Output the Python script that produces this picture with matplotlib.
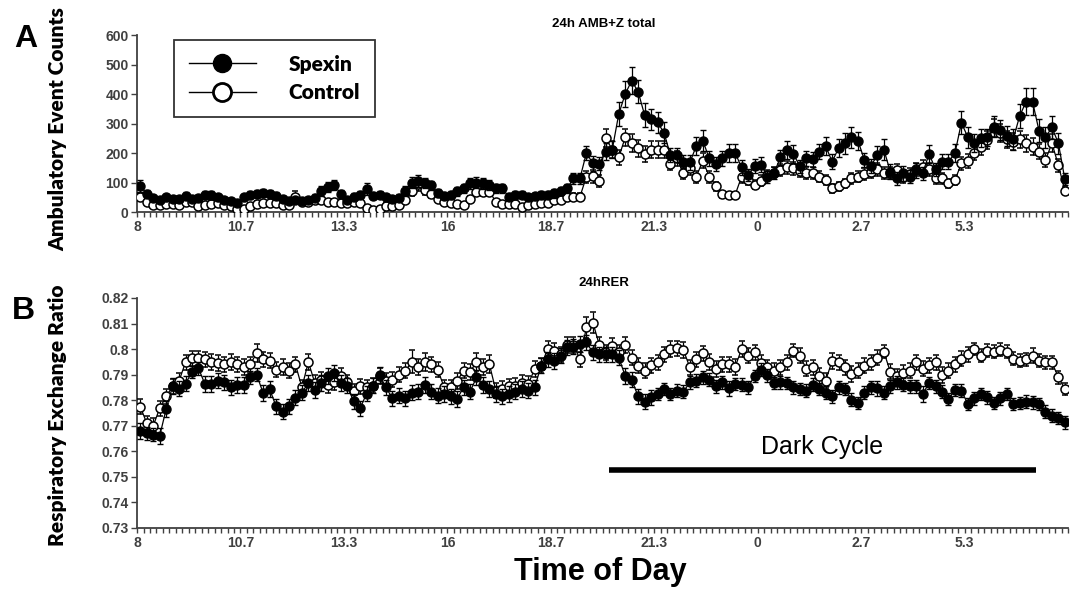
import matplotlib
matplotlib.use('Agg')
import matplotlib.pyplot as plt
from matplotlib.lines import Line2D
import numpy as np

plt.rcParams['font.family'] = ['Liberation Sans', 'DejaVu Sans']

# 10-minute bins over 24 h, starting at 8:00
tick_labels = ['8', '10.7', '13.3', '16', '18.7', '21.3', '0', '2.7', '5.3']
bins_per_label = 16

spexin_amb = [88, 62, 48, 42, 50, 45, 45, 55, 45, 48, 58, 58, 50, 42, 38, 32, 50, 58, 62, 65,
              62, 55, 45, 38, 40, 38, 40, 48, 72, 85, 92, 62, 40, 52, 58, 78, 55, 58, 50, 45,
              48, 72, 100, 105, 98, 90, 65, 55, 59, 70,
              80, 97, 100, 97, 92, 80, 80, 52, 58, 58, 50, 54, 58, 58, 63, 72, 80, 114, 114, 200,
              165, 163, 205, 212, 332, 400, 445, 408, 329, 314, 304, 269, 193, 193, 171, 168, 224, 242, 182, 163,
              182, 201, 201, 151, 125, 156, 161,
              120, 131, 185, 210, 197, 156, 182, 179, 205, 224, 171, 216, 233, 253, 242, 176, 156, 193, 212, 137,
              114, 131, 120, 142, 131, 197, 145, 171, 171, 199, 303, 253, 233, 250, 253, 289, 278, 258, 246, 325,
              374, 374, 276, 253, 287, 233, 111]
control_amb = [52, 35, 25, 25, 28, 28, 25, 35, 35, 22, 25, 28, 30, 25, 20, 10, 12, 22, 28, 30,
               30, 30, 25, 25, 50, 35, 35, 40, 40, 35, 35, 30, 32, 35, 32, 15, 8, 10, 22, 22,
               25, 40, 72, 95, 75, 60, 45, 35, 32, 28,
               24, 43, 69, 69, 69, 35, 27, 27, 27, 18, 24, 27, 29, 32, 41, 41, 52, 52, 52, 120,
               122, 106, 250, 212, 185, 253, 235, 216, 197, 212, 212, 212, 163, 182, 131, 148, 120, 174, 120, 88,
               61, 58, 58, 120, 108, 92, 106,
               125, 131, 142, 151, 148, 140, 131, 131, 120, 108, 80, 88, 97, 114, 120, 129, 137, 145, 131, 133,
               142, 118, 129, 145, 154, 145, 114, 114, 97, 108, 165, 174, 201, 222, 244, 284, 269, 246, 239, 246,
               233, 222, 205, 176, 233, 159, 72]
spexin_amb_err = [20, 12, 10, 10, 12, 10, 10, 12, 10, 10, 14, 14, 12, 10, 10, 8, 12, 14, 14, 14,
                  12, 12, 10, 10, 10, 10, 10, 12, 16, 18, 18, 14, 10, 12, 12, 20, 12, 12, 12, 10,
                  12, 16, 20, 20, 18, 16, 14, 12, 14, 14,
                  16, 18, 20, 20, 18, 16, 16, 12, 12, 12, 12, 12, 12, 12, 14, 14, 16, 20, 20, 25,
                  25, 22, 30, 30, 40, 45, 45, 40, 40, 35, 35, 35, 25, 25, 22, 25, 30, 35, 25, 25,
                  25, 30, 30, 25, 20, 25, 25,
                  20, 20, 25, 30, 30, 22, 25, 25, 25, 30, 25, 30, 35, 35, 30, 25, 25, 30, 35, 25,
                  22, 25, 22, 25, 22, 30, 22, 25, 25, 30, 40, 35, 30, 30, 30, 35, 35, 35, 35, 40,
                  45, 45, 40, 35, 40, 35, 20]
control_amb_err = [12, 8, 6, 6, 8, 8, 6, 8, 8, 6, 8, 8, 8, 6, 6, 6, 6, 8, 8, 8,
                   8, 8, 8, 6, 20, 10, 10, 10, 10, 10, 10, 8, 8, 10, 8, 6, 6, 6, 8, 8,
                   8, 10, 16, 22, 16, 14, 12, 10, 8, 10,
                   8, 10, 14, 14, 14, 10, 8, 8, 8, 6, 8, 8, 8, 8, 10, 10, 12, 12, 12, 20,
                   22, 20, 30, 28, 25, 30, 30, 28, 28, 28, 28, 28, 22, 25, 20, 22, 20, 25, 20, 15,
                   12, 10, 10, 20, 18, 15, 18,
                   18, 20, 20, 22, 22, 20, 20, 20, 18, 18, 15, 15, 16, 18, 18, 20, 20, 22, 20, 20,
                   22, 18, 20, 22, 22, 22, 18, 18, 16, 18, 22, 24, 25, 28, 30, 30, 30, 30, 28, 30,
                   28, 28, 26, 25, 30, 22, 12]

spexin_rer = [.768, .767, .7665, .766, .7765, .7855, .7845, .7865, .791, .7925, .7863, .7863, .7876, .787, .785, .786, .786, .789, .790, .7828,
              .7844, .7776, .7755, .7776, .781, .783, .7867, .784, .7867, .7895, .7906, .7867, .7857, .7795, .7768, .7826, .7857, .7898, .785, .7807,
              .7818, .7807, .783, .7833, .786, .7833, .7818, .7824, .7815, .7805,
              .785, .7833, .7889, .786, .7844, .7824, .7815, .7824, .7833, .7844, .7837, .785, .7935, .796, .7954, .7974, .8007, .801, .802, .8026,
              .7987, .798, .798, .798, .7967, .7895, .788, .7815, .7794, .7811, .7824, .7844, .7824, .7837, .7833, .787, .7876, .7889, .788, .7854,
              .787, .7846, .7863, .786, .785, .7895, .792,
              .7898, .7867, .787, .7867, .785, .7844, .7837, .786, .7844, .783, .7815, .785, .7844, .7802, .7789, .783, .785, .7846, .783, .7854,
              .787, .786, .7854, .7854, .7824, .7867, .7854, .7833, .7805, .784, .7837, .7785, .7807, .7824, .7811, .7789, .7807, .7824, .7785, .7789,
              .7794, .7792, .7785, .7755, .774, .773, .7714]
control_rer = [.7775, .771, .770, .7768, .7815, .7854, .7876, .7948, .7964, .7964, .796, .795, .7945, .794, .795, .794, .793, .794, .7984, .796,
               .7955, .792, .793, .7915, .794, .785, .795, .7867, .788, .786, .787, .7895, .787, .7835, .7854, .785, .7857, .7895, .7876, .788,
               .790, .7915, .795, .793, .795, .794, .792, .785, .785, .7875,
               .7915, .791, .795, .793, .794, .7837, .7844, .7854, .7857, .7867, .7863, .7922, .7935, .800, .7993, .798, .8016, .8016, .796, .8085,
               .8104, .8016, .7987, .8013, .7987, .8016, .7967, .7935, .7915, .7937, .7948, .798, .800, .8003, .7997, .7928, .796, .7984, .795, .7922,
               .794, .794, .793, .800, .7974, .7987, .7945,
               .7928, .7915, .7928, .7948, .7993, .7974, .7924, .7928, .7895, .7876, .7954, .7948, .7928, .7902, .7915, .7935, .7948, .7967, .799, .7911,
               .7893, .7906, .7915, .7948, .7924, .7937, .7948, .7898, .7915, .794, .7963, .798, .800, .7974, .7993, .799, .7997, .799, .7963, .7954,
               .796, .7974, .7954, .7948, .7948, .7889, .7844]
spexin_rer_err = [.003, .0025, .0025, .003, .003, .003, .003, .003, .0025, .0025, .003, .003, .003, .003, .003, .003, .003, .0025, .0025, .003,
                  .003, .003, .003, .003, .003, .003, .003, .003, .003, .003, .003, .003, .003, .003, .003, .003, .003, .003, .003, .003,
                  .003, .003, .003, .003, .003, .003, .003, .003, .003, .003,
                  .003, .003, .003, .003, .003, .003, .003, .003, .003, .003, .003, .003, .003, .003, .003, .003, .003, .003, .003, .003,
                  .003, .003, .003, .003, .003, .003, .003, .003, .003, .003, .0025, .0025, .0025, .0025, .0025, .0025, .0025, .0025, .0025, .0025,
                  .0025, .003, .0025, .0025, .0025, .0025, .0025,
                  .0025, .0025, .0025, .0025, .0025, .0025, .0025, .0025, .0025, .0025, .0025, .0025, .0025, .0025, .0025, .0025, .0025, .003, .0025, .0025,
                  .0025, .0025, .0025, .0025, .003, .0025, .0025, .0025, .0025, .0025, .0025, .0025, .0025, .0025, .0025, .0025, .0025, .0025, .0025, .0025,
                  .0025, .0025, .0025, .0025, .0025, .0025, .0025]
control_rer_err = [.003, .003, .003, .003, .003, .003, .003, .003, .003, .003, .003, .003, .003, .003, .003, .003, .003, .003, .0035, .003,
                   .003, .003, .003, .003, .003, .003, .003, .003, .003, .003, .003, .003, .003, .003, .003, .003, .003, .003, .003, .003,
                   .003, .003, .0045, .003, .0035, .003, .003, .003, .003, .003,
                   .003, .003, .0035, .003, .0035, .003, .003, .003, .003, .003, .003, .003, .003, .003, .003, .003, .003, .003, .003, .004,
                   .004, .003, .003, .003, .003, .003, .003, .003, .003, .003, .003, .003, .003, .003, .003, .003, .003, .003, .003, .003,
                   .003, .003, .003, .003, .003, .003, .003,
                   .003, .003, .003, .003, .0025, .003, .003, .003, .003, .003, .003, .003, .003, .003, .003, .003, .003, .003, .0025, .003,
                   .003, .003, .003, .003, .003, .003, .003, .003, .003, .003, .003, .003, .0025, .0025, .0025, .0025, .0025, .0025, .0025, .0025,
                   .0025, .003, .0025, .0025, .0025, .0025, .0025]

# dark cycle bar, in 10-min bins from 8:00
dark_start, dark_end, dark_level = 73, 139, 0.7527

GRAY = '#404040'


def style_axis(ax):
    n = len(spexin_amb)
    ax.set_xlim(0, n)
    ax.set_xticks(np.arange(0, n, bins_per_label))
    ax.set_xticklabels(tick_labels)
    ax.set_xticks(np.arange(0, n + 1, 1), minor=True)
    ax.tick_params(axis='x', which='both', direction='out', length=3.5, width=1, colors=GRAY, labelsize=10, pad=2)
    ax.tick_params(axis='y', direction='out', length=4, width=1, colors=GRAY, labelsize=10, pad=2)
    for lab in ax.get_xticklabels() + ax.get_yticklabels():
        lab.set_fontweight('bold')
    for s in ['top', 'right']:
        ax.spines[s].set_visible(False)
    for s in ['left', 'bottom']:
        ax.spines[s].set_color(GRAY)
        ax.spines[s].set_linewidth(1.3)


def plot_pair(ax, spx, spx_err, ctl, ctl_err):
    x = np.arange(len(spx)) + 0.5
    ax.errorbar(x, ctl, yerr=ctl_err, color='black', lw=0.9, marker='o', ms=6.5, mfc='white', mec='black',
                mew=1.1, ecolor='black', elinewidth=0.9, capsize=2.3, capthick=0.9, zorder=3)
    ax.errorbar(x, spx, yerr=spx_err, color='black', lw=0.9, marker='o', ms=6.5, mfc='black', mec='black',
                mew=1.0, ecolor='black', elinewidth=0.9, capsize=2.3, capthick=0.9, zorder=4)


fig = plt.figure(figsize=(10.74, 5.89), dpi=100)
ax1 = fig.add_axes([0.1276, 0.640, 0.8669, 0.3005])
ax2 = fig.add_axes([0.1276, 0.1036, 0.8669, 0.3905])

plot_pair(ax1, spexin_amb, spexin_amb_err, control_amb, control_amb_err)
ax1.set_ylim(0, 600)
ax1.set_yticks(np.arange(0, 601, 100))
style_axis(ax1)
ax1.set_ylabel('Ambulatory Event Counts', family='Lato', fontweight='heavy', fontsize=15)
ax1.yaxis.set_label_coords(-0.075, 0.47)

plot_pair(ax2, spexin_rer, spexin_rer_err, control_rer, control_rer_err)
ax2.set_ylim(0.73, 0.82)
ax2.set_yticks(np.round(np.arange(0.73, 0.8201, 0.01), 2))
ax2.set_yticklabels(['0.73', '0.74', '0.75', '0.76', '0.77', '0.78', '0.79', '0.8', '0.81', '0.82'])
style_axis(ax2)
ax2.set_ylabel('Respiratory Exchange Ratio', family='Lato', fontweight='heavy', fontsize=15)
ax2.yaxis.set_label_coords(-0.075, 0.49)

ax2.plot([dark_start, dark_end], [dark_level, dark_level], color='black', lw=4, solid_capstyle='butt')
ax2.text((dark_start + dark_end) / 2, 0.7617, 'Dark Cycle', ha='center', va='center', fontsize=18)

handles = [Line2D([], [], color='black', lw=1, marker='o', ms=13, mfc='black', mec='black'),
           Line2D([], [], color='black', lw=1, marker='o', ms=13, mfc='white', mec='black', mew=2)]
leg = ax1.legend(handles, ['Spexin', 'Control'], loc='upper left', bbox_to_anchor=(0.04, 0.972),
                 frameon=True, fancybox=False, edgecolor='black', handlelength=3.2, handletextpad=1.6,
                 borderpad=0.7, labelspacing=0.45, borderaxespad=0,
                 prop={'family': 'Lato', 'weight': 'heavy', 'size': 15})
leg.get_frame().set_linewidth(1.3)

fig.text(0.562, 0.959, '24h AMB+Z total', ha='center', va='center', fontsize=9.5, fontweight='bold')
fig.text(0.562, 0.520, '24hRER', ha='center', va='center', fontsize=9.5, fontweight='bold')
fig.text(0.024, 0.934, 'A', ha='center', va='center', fontsize=23, fontweight='bold')
fig.text(0.022, 0.472, 'B', ha='center', va='center', fontsize=23, fontweight='bold')
fig.text(0.559, 0.029, 'Time of Day', ha='center', va='center', fontsize=22, fontweight='bold')

fig.savefig('out.png', dpi=100)
